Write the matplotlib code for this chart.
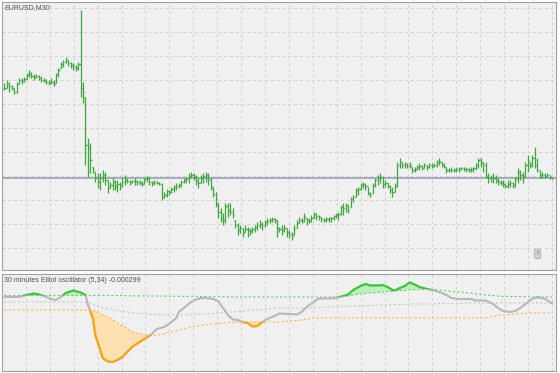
import numpy as np
import matplotlib.pyplot as plt

# EURUSD M30 bars, in pips from the bid line
base = 1.3600
pip = 0.0001

open_pips = [89, 90, 94, 92, 90, 86, 94, 98, 97, 99,
             103, 104, 102, 101, 102, 100, 98, 98, 96, 95,
             96, 95, 103, 110, 114, 116, 118, 115, 113, 111,
             110, 114, 90, 81, 33, 30, 11, 6, 0, -4,
             0, 3, -2, -10, -7, -4, -8, -6, -7, -4,
             -2, -3, -4, -3, -3, -4, -5, -6, -1, 0,
             -4, -5, -4, -5, -6, -19, -17, -13, -14, -11,
             -9, -8, -7, -4, -2, -1, 2, 3, 1, -3,
             -5, 0, 2, 3, -2, -9, -16, -25, -34, -40,
             -42, -28, -32, -34, -42, -47, -52, -50, -54, -51,
             -52, -53, -51, -49, -47, -46, -47, -44, -43, -42,
             -41, -42, -50, -51, -52, -50, -54, -56, -57, -50,
             -45, -42, -43, -40, -42, -43, -40, -36, -38, -39,
             -41, -42, -41, -40, -40, -38, -37, -36, -29, -30,
             -27, -29, -21, -19, -12, -11, -7, -6, -8, -15,
             -15, -7, -2, 0, 1, -6, -5, -8, -12, -14,
             -8, 13, 16, 13, 14, 12, 11, 8, 9, 11,
             12, 10, 13, 11, 13, 12, 13, 16, 16, 13,
             11, 8, 8, 8, 8, 9, 9, 10, 9, 9,
             8, 9, 10, 13, 18, 16, 13, 2, 0, 0,
             0, -2, -4, -5, -6, -8, -6, -5, -7, -1,
             6, 3, 2, 13, 16, 13, 20, 13, 8, 3,
             3, 2, 3, 0]
high_pips = [95, 98, 96, 93, 90, 96, 100, 100, 101, 105,
             108, 106, 104, 104, 103, 102, 100, 99, 98, 100,
             98, 105, 110, 116, 118, 121, 118, 116, 115, 113,
             116, 168, 96, 81, 40, 35, 11, 6, 5, 5,
             8, 6, -2, -4, 0, -2, -2, -4, 0, 3,
             0, -2, -2, 0, -2, -2, -3, 0, 2, 1,
             -3, -2, -3, -4, -5, -14, -11, -12, -9, -7,
             -5, -5, -2, 0, 1, 5, 6, 5, 3, 0,
             3, 5, 6, 5, 1, -9, -14, -25, -30, -35,
             -25, -25, -25, -30, -42, -45, -47, -50, -47, -49,
             -50, -49, -47, -44, -42, -44, -42, -40, -40, -39,
             -40, -42, -49, -47, -47, -50, -52, -54, -47, -42,
             -39, -40, -35, -40, -40, -37, -34, -35, -37, -39,
             -40, -39, -39, -39, -37, -35, -34, -27, -25, -25,
             -27, -19, -17, -10, -9, -5, -4, -5, -9, -14,
             -5, 0, 3, 5, 1, -2, -5, -7, -9, -5,
             16, 20, 16, 16, 15, 16, 11, 11, 13, 15,
             13, 15, 13, 15, 15, 15, 18, 20, 16, 15,
             11, 10, 11, 10, 11, 11, 11, 11, 11, 10,
             11, 11, 15, 20, 20, 16, 16, 5, 3, 5,
             3, 0, -2, -2, -5, -2, -2, -4, 1, 10,
             8, 6, 16, 23, 16, 23, 31, 20, 8, 6,
             5, 5, 3, 0]
low_pips = [88, 90, 86, 88, 84, 85, 94, 94, 96, 99,
            101, 100, 98, 100, 98, 96, 96, 94, 93, 94,
            92, 95, 101, 110, 111, 115, 112, 110, 108, 107,
            108, 81, 75, 13, 1, 5, 5, -4, -10, -12,
            -4, -7, -15, -10, -12, -12, -14, -12, -9, -7,
            -5, -7, -5, -7, -7, -7, -8, -6, -4, -7,
            -8, -7, -6, -7, -22, -20, -19, -17, -15, -14,
            -12, -10, -9, -5, -5, -5, 0, -2, -7, -10,
            -5, -5, -4, -7, -12, -19, -29, -40, -44, -47,
            -45, -39, -37, -40, -50, -57, -55, -59, -54, -59,
            -57, -55, -54, -52, -50, -52, -49, -47, -45, -44,
            -45, -59, -54, -57, -54, -59, -60, -62, -57, -50,
            -45, -45, -44, -47, -45, -44, -40, -42, -42, -44,
            -44, -44, -44, -44, -42, -40, -42, -37, -37, -34,
            -35, -29, -24, -19, -17, -12, -10, -12, -17, -19,
            -15, -9, -7, -5, -10, -9, -10, -15, -19, -14,
            -9, 10, 10, 10, 10, 10, 5, 6, 8, 8,
            8, 10, 8, 10, 10, 11, 11, 13, 11, 10,
            5, 6, 6, 6, 6, 6, 8, 7, 6, 6,
            6, 6, 8, 10, 11, 6, 0, -5, -4, -5,
            -5, -7, -7, -9, -10, -10, -9, -10, -9, -5,
            -2, -5, 1, 6, 10, 11, 10, 6, 0, 0,
            0, 1, -1, -1]
close_pips = [90, 94, 92, 90, 86, 94, 98, 97, 99, 103,
              104, 102, 101, 102, 100, 98, 98, 96, 95, 96,
              94, 103, 108, 114, 116, 118, 115, 113, 111, 110,
              114, 90, 86, 33, 30, 18, 8, 0, -4, 0,
              3, -2, -10, -7, -4, -8, -6, -7, -4, -2,
              -3, -4, -3, -3, -4, -5, -6, -1, 0, -4,
              -5, -4, -5, -6, -19, -17, -13, -14, -11, -9,
              -8, -7, -4, -2, -1, 2, 3, 1, -3, -5,
              0, 2, 3, -2, -8, -16, -25, -34, -40, -42,
              -28, -32, -34, -37, -47, -52, -50, -55, -51, -52,
              -53, -51, -49, -47, -46, -47, -44, -43, -42, -41,
              -42, -50, -51, -52, -50, -54, -56, -58, -50, -45,
              -42, -43, -38, -42, -43, -40, -36, -38, -39, -41,
              -42, -41, -40, -40, -38, -37, -36, -29, -30, -27,
              -32, -21, -19, -12, -11, -7, -6, -8, -15, -17,
              -7, -2, 0, 2, -6, -5, -8, -12, -14, -8,
              13, 16, 13, 14, 12, 13, 8, 9, 11, 12,
              10, 13, 11, 13, 12, 13, 16, 17, 13, 11,
              8, 8, 8, 8, 9, 9, 10, 9, 9, 8,
              9, 10, 13, 18, 16, 13, 2, 0, 0, 0,
              -2, -4, -5, -6, -8, -6, -5, -7, -1, 6,
              3, 2, 13, 18, 13, 20, 13, 8, 3, 3,
              2, 3, 1, 0]

# Elliot oscillator (5,34), in pips, sampled at these bars
osc_bar = [0, 6, 9, 12, 14, 16, 19, 21, 23, 25, 28, 31, 33, 34, 36, 37, 39, 40, 42, 44,
           46, 48, 50, 52, 55, 58, 60, 62, 65, 67, 70, 71, 74, 76, 78, 80, 82, 85, 87, 89,
           91, 93, 95, 97, 99, 101, 103, 105, 107, 110, 112, 116, 119, 121, 123, 126, 128, 133, 135, 138,
           140, 142, 145, 147, 149, 152, 154, 156, 158, 159, 161, 163, 165, 167, 169, 172, 174, 177, 180, 182,
           185, 190, 192, 196, 199, 201, 203, 206, 208, 210, 213, 215, 217, 220, 222, 223]
osc_main = [3, 3, 5, 6.5, 5.5, 4, 1, 0, 3, 7, 9.5, 7.5, 5, -5, -18, -35, -50, -58, -61.5, -62,
            -60, -57, -52, -47, -42, -37.5, -34, -29, -27, -24, -18, -12, -6, -2, 0.5, 2, 2, 1, -1, -8,
            -15, -19.5, -20, -22, -23, -26.5, -26, -22, -19, -16, -13.5, -14, -14.5, -12, -7, -2, 1.5, 1.5, 2, 4,
            5.5, 10, 14, 16, 14.5, 14.5, 15, 13, 10, 9.5, 12, 14, 17.5, 15.5, 13, 11, 10, 8, 5, 2,
            1, 1, -0.5, -0.5, -4, -8, -11, -12, -11, -8, -2.5, 1.5, 2.5, 1.5, -2, -3]
osc_upper = [4.5, 4.5, 4.5, 4.5, 4.5, 4.5, 4.5, 4.5, 4.5, 4.5, 4.5, 4.5, 4.5, 4.5, 4.5, 4.5, 4.5, 4.5, 4.5, 4.5,
             4.5, 4.4, 4.3, 4.2, 4.1, 4, 4, 4, 3.9, 3.8, 3.7, 3.7, 3.6, 3.6, 3.5, 3.5, 3.4, 3.3, 3.3, 3.2,
             3.2, 3.1, 3.1, 3, 3, 3, 3, 3, 3, 3, 3, 3, 3, 3, 3, 3, 3, 3, 3, 3.5,
             4, 5, 6, 6.5, 7, 7.5, 8, 8.5, 8.5, 9, 9.5, 9.5, 10, 10.5, 10.5, 11, 10.5, 10, 9, 8.5,
             8, 7, 6, 5, 4.5, 4, 3.5, 3.5, 3.5, 3.5, 3.2, 3, 3, 3, 3, 3]
osc_lower = [-10, -10, -10, -10, -10, -10, -10, -10, -10, -10, -10, -10, -10, -10, -10.3, -11, -13, -15, -16.5, -19.5,
             -23, -26, -28.5, -32, -33.5, -35, -35.5, -35, -34, -32, -30.5, -30, -28.5, -27, -26, -25.5, -25, -24, -23.5, -23,
             -22.5, -22.5, -22, -22, -22, -22, -22, -22, -22, -22, -22, -21, -20.5, -20, -19, -18, -18, -18, -18, -18,
             -18, -18, -18, -18, -18, -18, -18, -18, -18, -18, -18, -18, -18, -18, -18, -18, -18, -18, -18, -18,
             -18, -18, -18, -18, -16.5, -15.5, -15, -14.5, -14, -13.5, -13, -13, -13, -13, -13, -13]
osc_mid = [-2, -2, -2, -2, -2, -2, -2, -2, -2, -2, -2, -2, -2.5, -3.5, -4.5, -5.5, -7, -8, -8.5, -9.5,
           -10.5, -11.5, -12, -13, -13.5, -14, -14.5, -14.5, -15, -15, -15, -15, -15, -14.5, -14.5, -14, -14, -13.5, -13, -12.5,
           -12, -12, -11.5, -11, -10.5, -10, -10, -9.5, -9, -8.5, -8, -8, -8, -8, -8, -8, -7.5, -7, -7, -6.5,
           -6.5, -6, -6, -5.5, -5.5, -5, -5, -5, -4.5, -4.5, -4.5, -4.5, -4, -4, -4, -4, -4, -3.5, -3.5, -3.5,
           -3.5, -3, -3, -3, -3, -3, -3, -3, -3, -3, -3, -3, -3, -3, -3, -3]

x = np.arange(len(close_pips))
o = base + np.array(open_pips) * pip
h = base + np.array(high_pips) * pip
l = base + np.array(low_pips) * pip
c = base + np.array(close_pips) * pip

ob = np.array(osc_bar)
main = np.array(osc_main) * pip
upper = np.array(osc_upper) * pip
lower = np.array(osc_lower) * pip
mid = np.array(osc_mid) * pip

plt.rcParams['font.family'] = ['Liberation Sans', 'DejaVu Sans']
bg = '#f0f0f0'
edge = '#a0a0a0'
grid_kw = dict(color='#d2d2d2', linestyle=(0, (3, 3)), linewidth=0.7)
gx = 8.76 + 9.735 * np.arange(23)

fig = plt.figure(figsize=(5.6, 3.73), dpi=100)
ax1 = fig.add_axes([2 / 560, 1 - 270 / 373, 554 / 560, 268 / 373])
ax2 = fig.add_axes([2 / 560, 1 - 371 / 373, 554 / 560, 97 / 373])

for ax in (ax1, ax2):
    ax.set_facecolor(bg)
    for s in ax.spines.values():
        s.set_color(edge)
        s.set_linewidth(0.8)
    ax.set_xlim(-1.0, len(x) - 1 + 1.6)
    ax.set_xticks(gx)
    ax.tick_params(length=0, labelbottom=False, labelleft=False)
    ax.set_axisbelow(True)

# price panel
ax1.set_ylim(base - 92 * pip, base + 176 * pip)
ax1.set_yticks(base + pip * np.arange(-70, 171, 24))
ax1.grid(True, **grid_kw)
bar_col = '#3ca83c'
ax1.vlines(x, l, h, color=bar_col, linewidth=0.9)
ax1.hlines(o, x - 0.45, x, color=bar_col, linewidth=0.9)
ax1.hlines(c, x, x + 0.45, color=bar_col, linewidth=0.9)
ax1.axhline(base, color='#8e9bb0', linewidth=1.1, zorder=1)
ax1.text(0.004, 0.978, 'EURUSD,M30', transform=ax1.transAxes, fontsize=5,
         color='#505050', va='center', ha='left')
ax1.text(0.9666, 0.06, '!', transform=ax1.transAxes, fontsize=4.5, color='#5a3a8a',
         ha='center', va='center', fontweight='bold',
         bbox=dict(boxstyle='round,pad=0.35', fc='#d6d6d6', ec='#a8a8a8', lw=0.6))

# oscillator panel
ax2.set_ylim(-71 * pip, 26 * pip)
ax2.set_yticks([])
ax2.grid(True, axis='x', **grid_kw)
ax2.plot(ob, mid, color='#c8c8c8', linestyle=(0, (2, 2)), linewidth=0.8)
ax2.plot(ob, upper, color='#66d266', linestyle=(0, (2, 2)), linewidth=0.8)
ax2.plot(ob, lower, color='#ffb347', linestyle=(0, (2, 2)), linewidth=0.8)
ax2.fill_between(ob, main, upper, where=main > upper, interpolate=True, color='#bdeebd', lw=0)
ax2.fill_between(ob, main, lower, where=main < lower, interpolate=True, color='#ffe0b0', lw=0)
ax2.plot(ob, main, color='#b8b8b8', linewidth=1.5)

above = ax2.fill_between(ob, upper, 1, color='none', lw=0)
below = ax2.fill_between(ob, lower, -1, color='none', lw=0)
g_line, = ax2.plot(ob, main, color='#33cc33', linewidth=1.5)
g_line.set_clip_path(above.get_paths()[0], ax2.transData)
o_line, = ax2.plot(ob, main, color='#ffa500', linewidth=1.5)
o_line.set_clip_path(below.get_paths()[0], ax2.transData)

ax2.text(0.004, 0.938, '30 minutes Elliot oscillator (5,34) -0.000299', transform=ax2.transAxes,
         fontsize=5, color='#505050', va='center', ha='left')

fig.savefig('out.png', dpi=100, facecolor='white')
